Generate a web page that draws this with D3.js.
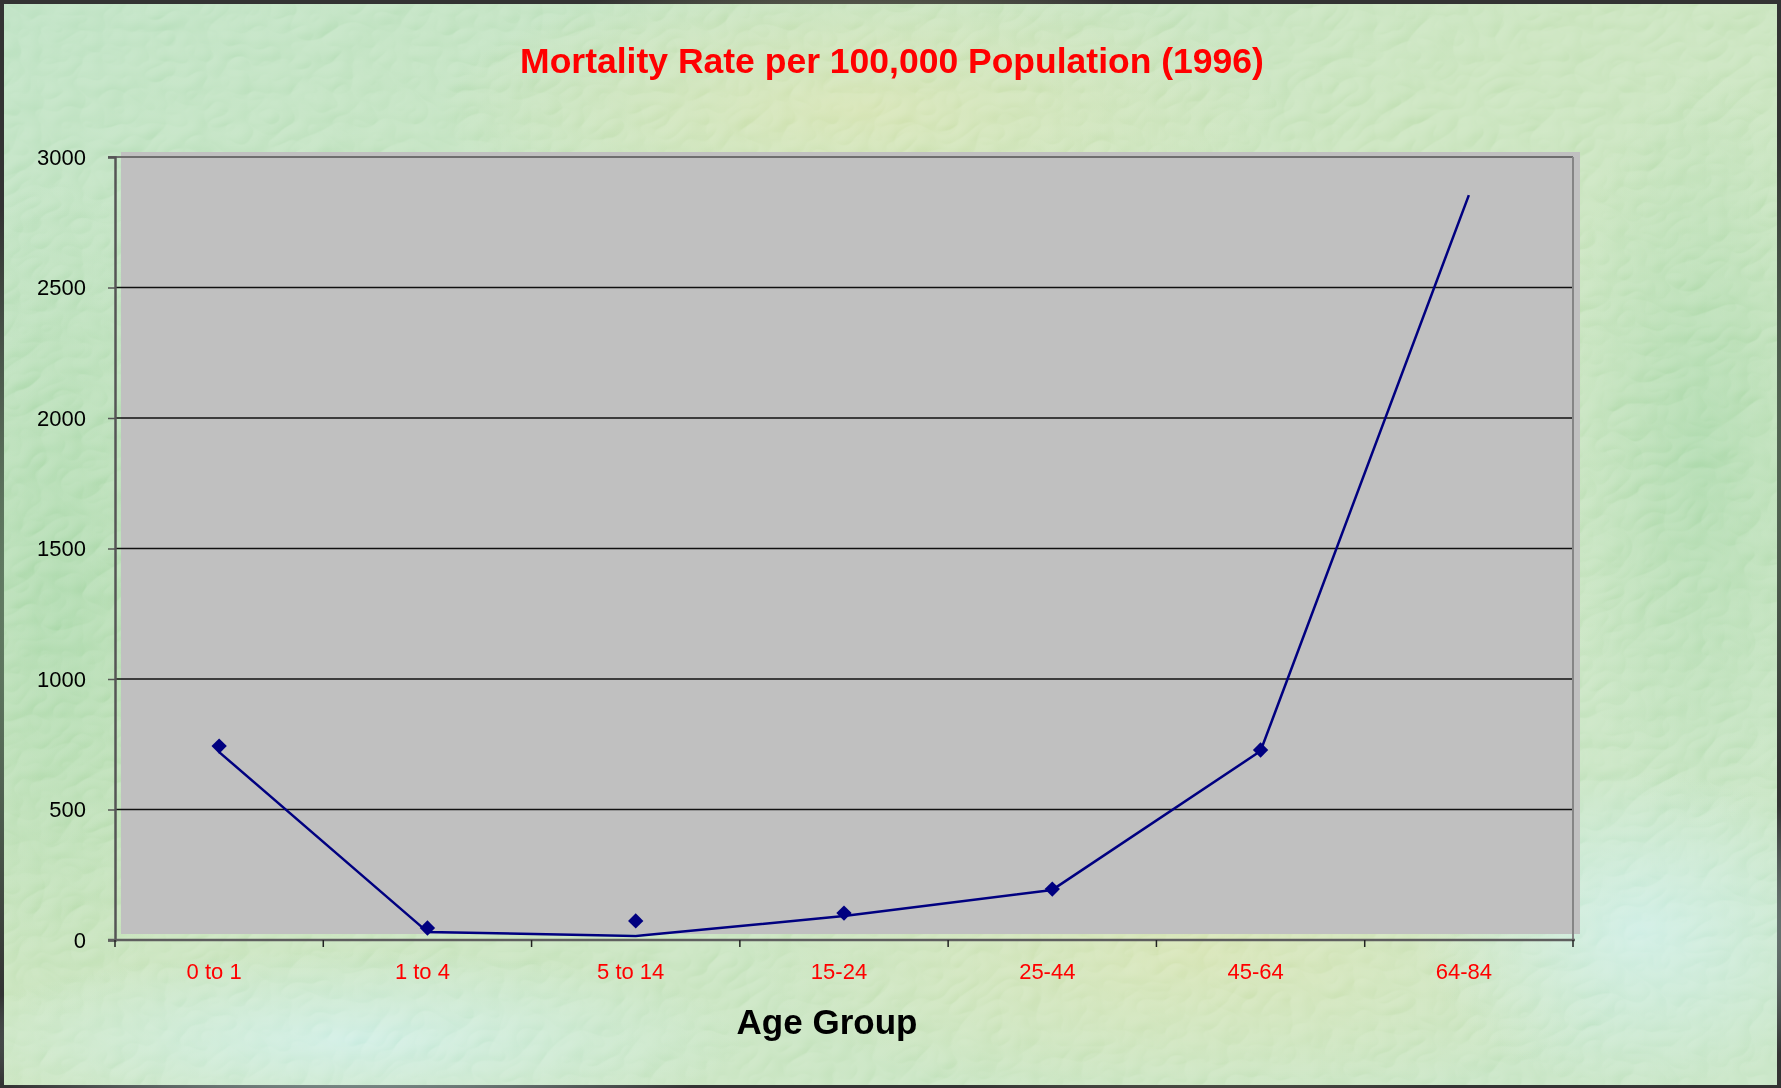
<!DOCTYPE html>
<html>
<head>
<meta charset="utf-8">
<script src="https://cdnjs.cloudflare.com/ajax/libs/d3/7.8.5/d3.min.js"></script>
<style>
  body { margin: 0; background: #333; }
  svg { display: block; font-family: "Liberation Sans", Arial, sans-serif; }
</style>
</head>
<body>
<svg id="chart" width="1781" height="1088"></svg>
<script>
// Age groups along the bottom
var ageGroups = ['0 to 1', '1 to 4', '5 to 14', '15-24', '25-44', '45-64', '64-84'];
// Mortality per 100,000 as drawn by the line
var lineValues = [720, 31, 15, 92, 192, 724, 2854];
// The diamond markers sit a little off the line in the original, last one is missing
var markerValues = [743, 46, 73, 103, 195, 728, null];
var yTicks = [0, 500, 1000, 1500, 2000, 2500, 3000];

var titleText = 'Mortality Rate per 100,000 Population (1996)';
var xTitleText = 'Age Group';

var svg = d3.select('#chart');
var W = 1781, H = 1088;
// plot edges (don't call these "top"/"left", window.top is taken)
var plotL = 115, plotR = 1573, plotT = 157, plotB = 940;

var defs = svg.append('defs');

// background gradients
var bg = defs.append('linearGradient').attr('id', 'bgLin')
  .attr('x1', 0).attr('y1', 0).attr('x2', 1).attr('y2', 1);
bg.append('stop').attr('offset', '0%').attr('stop-color', '#b3ddb9');
bg.append('stop').attr('offset', '45%').attr('stop-color', '#c0dfb2');
bg.append('stop').attr('offset', '100%').attr('stop-color', '#bde0bb');

function radial (id, color, op) {
  var g = defs.append('radialGradient').attr('id', id);
  g.append('stop').attr('offset', '0%').attr('stop-color', color).attr('stop-opacity', op);
  g.append('stop').attr('offset', '100%').attr('stop-color', color).attr('stop-opacity', 0);
}
radial('ylw', '#d4e0a6', 0.8);
radial('grn', '#98d09a', 0.7);
radial('blu', '#c8ece4', 0.9);

// embossed texture
var f = defs.append('filter').attr('id', 'tex')
  .attr('x', 0).attr('y', 0).attr('width', '100%').attr('height', '100%');
f.append('feTurbulence').attr('type', 'turbulence').attr('baseFrequency', '0.024 0.032')
  .attr('numOctaves', 2).attr('seed', 7).attr('result', 'noise');
var light = f.append('feDiffuseLighting').attr('in', 'noise').attr('surfaceScale', 4)
  .attr('diffuseConstant', 1).attr('lighting-color', '#ffffff');
light.append('feDistantLight').attr('azimuth', 225).attr('elevation', 50);

svg.append('rect').attr('x', 4).attr('y', 4).attr('width', W - 8).attr('height', H - 7)
  .attr('fill', 'url(#bgLin)');

var blobs = [
  {cx: 860, cy: 110, rx: 420, ry: 140, f: 'ylw'},
  {cx: 1200, cy: 950, rx: 450, ry: 160, f: 'ylw'},
  {cx: 60, cy: 600, rx: 160, ry: 420, f: 'grn'},
  {cx: 1700, cy: 450, rx: 140, ry: 380, f: 'grn'},
  {cx: 1640, cy: 930, rx: 220, ry: 160, f: 'blu'},
  {cx: 350, cy: 1040, rx: 400, ry: 90, f: 'blu'}
];
svg.append('g').selectAll('ellipse').data(blobs).join('ellipse')
  .attr('cx', function (d) { return d.cx; })
  .attr('cy', function (d) { return d.cy; })
  .attr('rx', function (d) { return d.rx; })
  .attr('ry', function (d) { return d.ry; })
  .attr('fill', function (d) { return 'url(#' + d.f + ')'; });

svg.append('rect').attr('x', 4).attr('y', 4).attr('width', W - 8).attr('height', H - 7)
  .attr('filter', 'url(#tex)').style('mix-blend-mode', 'soft-light').attr('opacity', 0.6);

// scales
var x = d3.scaleBand().domain(ageGroups).range([plotL, plotR]).padding(0);
var y = d3.scaleLinear().domain([0, 3000]).range([plotB, plotT]);
function cx (d) { return x(d) + x.bandwidth() / 2; }

// plot area (slightly offset from the axes, like the original)
svg.append('rect').attr('x', plotL + 6).attr('y', plotT - 5)
  .attr('width', plotR - plotL + 1).attr('height', plotB - plotT - 1)
  .attr('fill', '#c0c0c0');

// gridlines
svg.append('g').selectAll('line').data(yTicks.filter(function (t) { return t > 0 && t < 3000; }))
  .join('line')
  .attr('x1', plotL).attr('x2', plotR)
  .attr('y1', function (d) { return y(d); }).attr('y2', function (d) { return y(d); })
  .attr('stroke', '#111').attr('stroke-width', 1.3);

// frame top + right
svg.append('line').attr('x1', plotL - 7).attr('x2', plotR).attr('y1', plotT).attr('y2', plotT)
  .attr('stroke', '#6e6e6e').attr('stroke-width', 2);
svg.append('line').attr('x1', plotR).attr('x2', plotR).attr('y1', plotT).attr('y2', plotB)
  .attr('stroke', '#858585').attr('stroke-width', 2);

// y axis
var yAxis = svg.append('g').attr('transform', 'translate(' + plotL + ',0)')
  .call(d3.axisLeft(y).tickValues(yTicks).tickSize(7).tickPadding(22).tickFormat(d3.format('d')));
yAxis.select('.domain').attr('stroke', '#555').attr('stroke-width', 2.5);
yAxis.selectAll('.tick line').attr('stroke', '#555').attr('stroke-width', 1.5);
yAxis.selectAll('.tick text').attr('fill', '#000').style('font-size', '22px')
  .style('font-family', '"Liberation Sans", Arial, sans-serif');

// x axis
var boundaries = ageGroups.map(function (d) { return x(d); }).concat([plotR]);
svg.append('line').attr('x1', plotL - 7).attr('x2', plotR + 2).attr('y1', plotB).attr('y2', plotB)
  .attr('stroke', '#5f5f5f').attr('stroke-width', 2.5);
svg.append('g').selectAll('line').data(boundaries).join('line')
  .attr('x1', function (d) { return d; }).attr('x2', function (d) { return d; })
  .attr('y1', plotB).attr('y2', plotB + 7)
  .attr('stroke', '#222').attr('stroke-width', 1.5);

svg.append('g').selectAll('text').data(ageGroups).join('text')
  .attr('x', function (d) { return cx(d) - 5; })
  .attr('y', 979)
  .attr('text-anchor', 'middle')
  .attr('fill', '#ff0000')
  .style('font-size', '22px')
  .text(function (d) { return d; });

// line
var line = d3.line()
  .x(function (d, i) { return cx(ageGroups[i]); })
  .y(function (d) { return y(d); });
svg.append('path').datum(lineValues)
  .attr('d', line)
  .attr('fill', 'none').attr('stroke', '#000080').attr('stroke-width', 2.5)
  .attr('stroke-linejoin', 'round');

// diamond markers
var diamond = d3.symbol().type(d3.symbolDiamond2).size(150);
svg.append('g').selectAll('path')
  .data(markerValues.map(function (v, i) { return {g: ageGroups[i], v: v}; })
    .filter(function (d) { return d.v !== null; }))
  .join('path')
  .attr('transform', function (d) { return 'translate(' + cx(d.g) + ',' + y(d.v) + ')'; })
  .attr('d', diamond)
  .attr('fill', '#000080');

// titles
svg.append('text').attr('x', 892).attr('y', 73).attr('text-anchor', 'middle')
  .attr('fill', '#ff0000').style('font-size', '35.5px').style('font-weight', 'bold')
  .text(titleText);
svg.append('text').attr('x', 827).attr('y', 1034).attr('text-anchor', 'middle')
  .attr('fill', '#000').style('font-size', '35px').style('font-weight', 'bold')
  .text(xTitleText);
</script>
</body>
</html>
